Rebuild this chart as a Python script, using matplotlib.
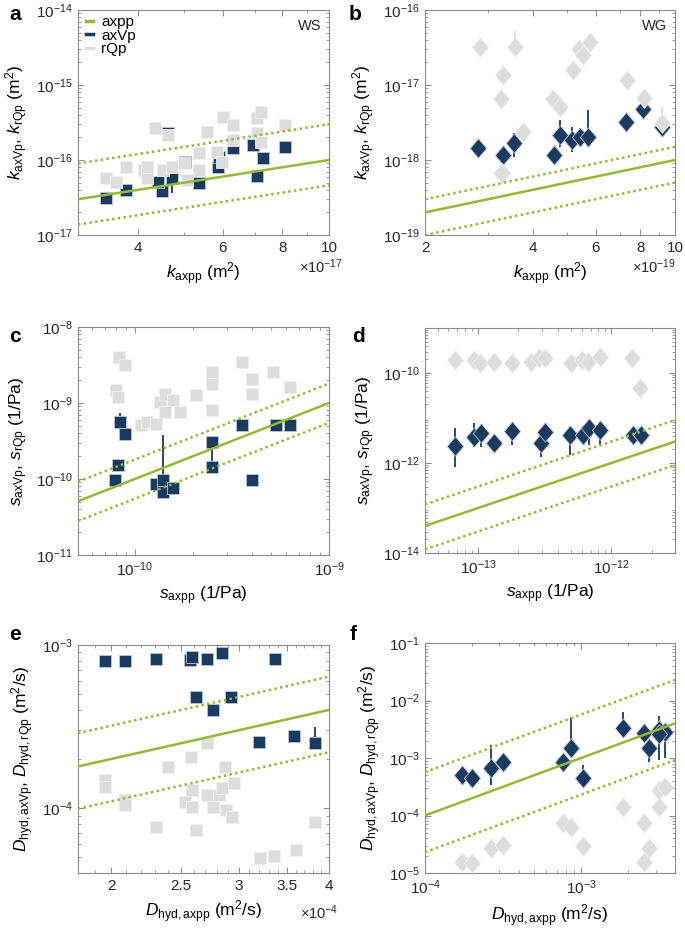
import numpy as np
import matplotlib
matplotlib.use('Agg')
import matplotlib.pyplot as plt
from matplotlib.path import Path
from matplotlib.ticker import FixedLocator, FixedFormatter, NullFormatter

plt.rcParams['font.family'] = ['Liberation Sans', 'DejaVu Sans']
plt.rcParams['mathtext.fontset'] = 'custom'
plt.rcParams['mathtext.rm'] = 'Liberation Sans'
plt.rcParams['mathtext.it'] = 'Liberation Sans:italic'
plt.rcParams['mathtext.bf'] = 'Liberation Sans:bold'

green = '#94b933'
navy = '#1a3a5f'
grey = '#dddddd'

# ---- panel a (WS, k) ----
a_blue_x = [3.43, 3.78, 4.49, 4.40, 4.63, 4.72, 5.02, 5.37, 5.88, 5.90, 6.31, 6.96, 7.09, 7.29, 8.10]
a_blue_y = [0.315, 0.398, 0.386, 0.514, 2.27, 0.57, 0.95, 0.499, 0.815, 1.11, 1.46, 1.58, 0.618, 1.07, 1.5]
a_grey_x = [3.43, 3.60, 3.78, 4.12, 4.18, 4.33, 4.52, 4.63, 4.70, 5.00, 5.06, 5.36, 5.36, 5.57, 5.85,
            5.99, 6.01, 6.31, 6.31, 7.09, 7.23, 7.09, 7.23, 8.10, 4.18]
a_grey_y = [0.57, 0.514, 0.815, 0.736, 0.57, 2.64, 0.736, 2.15, 0.815, 0.903, 0.541, 1.23, 0.736, 2.39, 1.29,
            0.95, 3.78, 2.93, 1.85, 3.59, 4.41, 2.27, 1.76, 2.93, 0.815]
a_err_x = [4.72]
a_err_lo = [0.36]
a_err_hi = [0.644]

# ---- panel b (WG, k) ----
b_blue_x = [2.82, 3.31, 3.55, 3.29, 4.60, 4.77, 5.16, 5.42, 5.72, 7.29, 8.15, 9.17]
b_blue_y = [1.43, 1.165, 1.70, 0.665, 1.165, 2.15, 1.84, 2.04, 2.04, 3.23, 4.85, 2.77]
b_grey_x = [2.85, 3.31, 3.26, 3.57, 3.75, 4.57, 4.77, 5.19, 5.39, 5.54, 5.78, 7.35, 8.19, 9.22, 3.29]
b_grey_y = [31.9, 13.4, 6.58, 31.9, 2.38, 6.58, 5.1, 15.7, 30.4, 24.8, 37.2, 11.5, 6.79, 3.07, 0.665]
b_err_x = [3.55, 4.77, 5.16, 5.42, 5.72, 8.15]
b_err_lo = [1.11, 1.50, 1.29, 1.70, 1.50, 4.61]
b_err_hi = [2.26, 3.40, 2.77, 2.70, 4.61, 5.95]
b_gerr_x = [3.57, 9.22]
b_gerr_lo = [31.9, 3.07]
b_gerr_hi = [53.0, 5.1]

# ---- panel c (WS, s) ----
c_blue_x = [7.95e-11, 8.2e-11, 8.37e-11, 8.88e-11, 1.29e-10, 1.40e-10, 1.40e-10, 1.58e-10, 2.51e-10, 2.51e-10,
            3.57e-10, 4.03e-10, 5.31e-10, 6.29e-10]
c_blue_y = [9.6e-11, 1.51e-10, 5.62e-10, 3.95e-10, 8.7e-11, 9.6e-11, 6.75e-11, 7.69e-11, 3.07e-10, 1.44e-10,
            5.08e-10, 9.6e-11, 5.08e-10, 5.08e-10]
c_grey_x = [8.27e-11, 8.88e-11, 8.04e-11, 8.2e-11, 1.08e-10, 1.15e-10, 1.28e-10, 1.35e-10, 1.43e-10, 1.58e-10,
            1.71e-10, 2.06e-10, 2.51e-10, 2.51e-10, 2.51e-10, 3.57e-10, 4.03e-10, 4.03e-10, 5.16e-10, 6.29e-10,
            1.43e-10]
c_grey_y = [4.03e-9, 3.13e-9, 1.47e-9, 1.2e-9, 5.08e-10, 5.62e-10, 5.35e-10, 1.03e-9, 1.33e-9, 1.08e-9,
            7.6e-10, 1.26e-9, 2.56e-9, 1.8e-9, 8.0e-10, 3.46e-9, 2.05e-9, 1.33e-9, 2.56e-9, 1.62e-9,
            7.6e-10]
c_err_x = [8.37e-11, 1.40e-10, 2.51e-10]
c_err_lo = [3.95e-10, 6.75e-11, 1.44e-10]
c_err_hi = [7.4e-10, 3.75e-10, 3.07e-10]

# ---- panel d (WG, s) ----
d_grey_x = [6.66e-14, 9.29e-14, 1.04e-13, 1.32e-13, 1.81e-13, 2.49e-13, 2.87e-13, 3.16e-13, 4.94e-13, 6.04e-13,
            6.65e-13, 8.18e-13, 1.43e-12, 1.64e-12]
d_grey_y = [1.95e-10, 1.95e-10, 1.64e-10, 1.78e-10, 1.64e-10, 1.78e-10, 2.12e-10, 2.12e-10, 1.64e-10, 1.95e-10,
            1.78e-10, 2.31e-10, 2.12e-10, 4.56e-11]
d_blue_x = [6.66e-14, 9.29e-14, 1.05e-13, 1.32e-13, 1.81e-13, 2.95e-13, 3.16e-13, 4.89e-13, 6.15e-13, 6.77e-13,
            8.18e-13, 1.45e-12, 1.66e-12]
d_blue_y = [2.43e-12, 3.85e-12, 4.56e-12, 2.74e-12, 5.14e-12, 2.74e-12, 4.9e-12, 4.19e-12, 4.19e-12, 5.9e-12,
            5.37e-12, 4.19e-12, 4.19e-12]
d_err_x = [6.66e-14, 9.29e-14, 1.05e-13, 1.81e-13, 2.95e-13, 4.89e-13, 6.77e-13, 8.18e-13]
d_err_lo = [8.3e-13, 2.31e-12, 2.31e-12, 2.5e-12, 1.38e-12, 1.5e-12, 2.5e-12, 2.5e-12]
d_err_hi = [5.9e-12, 7.6e-12, 4.56e-12, 5.14e-12, 2.74e-12, 4.19e-12, 5.9e-12, 5.37e-12]

# ---- panel e (WS, D) ----
e_blue_x = [1.96e-4, 2.09e-4, 2.31e-4, 2.57e-4, 2.59e-4, 2.71e-4, 2.85e-4, 3.37e-4, 2.62e-4, 2.93e-4,
            2.77e-4, 3.20e-4, 3.58e-4, 3.82e-4]
e_blue_y = [7.97e-4, 8.0e-4, 8.17e-4, 8.08e-4, 8.39e-4, 8.17e-4, 8.89e-4, 8.17e-4, 4.77e-4, 4.81e-4,
            3.99e-4, 2.55e-4, 2.77e-4, 2.49e-4]
e_grey_x = [1.96e-4, 1.96e-4, 2.09e-4, 2.09e-4, 2.31e-4, 2.40e-4, 2.53e-4, 2.58e-4, 2.59e-4, 2.59e-4,
            2.62e-4, 2.71e-4, 2.71e-4, 2.77e-4, 2.82e-4, 2.85e-4, 2.87e-4, 2.88e-4, 2.94e-4, 2.96e-4,
            3.21e-4, 3.36e-4, 3.60e-4, 3.82e-4]
e_grey_y = [1.485e-4, 1.35e-4, 1.12e-4, 1.04e-4, 7.68e-5, 1.79e-4, 1.09e-4, 2.07e-4, 1.29e-4, 1.02e-4,
            7.33e-5, 2.49e-4, 1.2e-4, 1.02e-4, 1.2e-4, 1.32e-4, 1.79e-4, 9.7e-5, 8.85e-5, 1.42e-4,
            4.91e-5, 5.07e-5, 5.52e-5, 8.25e-5]
e_err_x = [3.82e-4]
e_err_lo = [2.49e-4]
e_err_hi = [3.15e-4]

# ---- panel f (WG, D) ----
f_blue_x = [1.73e-4, 1.99e-4, 2.64e-4, 3.18e-4, 7.63e-4, 8.63e-4, 1.035e-3, 1.85e-3, 2.53e-3, 2.74e-3,
            3.18e-3, 3.45e-3, 3.18e-3]
f_blue_y = [5.06e-4, 4.43e-4, 6.61e-4, 8.63e-4, 8.63e-4, 1.47e-3, 4.43e-4, 3.28e-3, 2.76e-3, 1.47e-3,
            3.07e-3, 2.87e-3, 2.6e-3]
f_grey_x = [1.73e-4, 1.99e-4, 2.64e-4, 3.18e-4, 7.63e-4, 8.63e-4, 1.035e-3, 1.85e-3, 2.53e-3, 2.53e-3,
            2.74e-3, 3.18e-3, 3.18e-3, 3.45e-3]
f_grey_y = [1.57e-5, 1.47e-5, 2.68e-5, 3.07e-5, 7.3e-5, 6.4e-5, 2.95e-5, 1.42e-4, 7.3e-5, 1.57e-5,
            2.68e-5, 1.42e-4, 2.77e-4, 3.17e-4]
f_err_x = [2.64e-4, 8.63e-4, 1.035e-3, 1.85e-3, 2.74e-3, 3.18e-3, 3.45e-3]
f_err_lo = [3.39e-4, 1.47e-3, 4.43e-4, 3.28e-3, 8.6e-4, 9.2e-4, 9.9e-4]
f_err_hi = [1.68e-3, 5.24e-3, 7.55e-4, 6.4e-3, 1.47e-3, 5.3e-3, 2.87e-3]

# dotted bound factors of the 1:1 line
a_bounds = [3.0, 0.46]
b_bounds = [1.5, 0.5]
c_bounds = [1.8, 0.55]
d_bounds = [3.0, 0.3]
e_bounds = [1.6, 0.55]
f_bounds = [5.7, 0.23]

diamond = Path([(0, 1), (0.84, 0), (0, -1), (-0.84, 0), (0, 1)],
               [Path.MOVETO, Path.LINETO, Path.LINETO, Path.LINETO, Path.CLOSEPOLY])

fig = plt.figure(figsize=(6.85, 9.34), dpi=100)
W, H = 685.0, 934.0
tick_fs = 11
lab = 12.5
txt_c = '#262626'


def make_ax(x0, x1, y0, y1):
    return fig.add_axes([x0 / W, 1 - y1 / H, (x1 - x0) / W, (y1 - y0) / H])


def setup(ax, xlim, ylim):
    ax.set_xscale('log')
    ax.set_yscale('log')
    ax.set_xlim(xlim)
    ax.set_ylim(ylim)
    for s in ax.spines.values():
        s.set_color('#8a8a8a')
        s.set_linewidth(0.8)
    ax.tick_params(which='both', direction='in', top=True, right=True, color='#8a8a8a',
                   labelcolor=txt_c, labelsize=tick_fs)
    ax.tick_params(which='major', length=4, width=0.7, pad=4)
    ax.tick_params(which='minor', length=2, width=0.6)


def one2one(ax, xlim, bounds):
    xx = np.array(xlim)
    ax.plot(xx, xx, color=green, lw=1.8, zorder=6)
    ax.plot(xx, xx * bounds[0], color=green, lw=1.8, ls=(0, (1, 1.3)), zorder=6)
    ax.plot(xx, xx * bounds[1], color=green, lw=1.8, ls=(0, (1, 1.3)), zorder=6)


def points(ax, bx, by, gx, gy, marker, ms, ex, elo, ehi, gex=None, gelo=None, gehi=None):
    ax.vlines(ex, elo, ehi, color=navy, lw=1.3, zorder=2)
    ax.plot(bx, by, ls='none', marker=marker, ms=ms, mfc=navy, mec='#b9c5d6', mew=0.6, zorder=3)
    if gex is not None:
        ax.vlines(gex, gelo, gehi, color=grey, lw=1.3, zorder=4)
    ax.plot(gx, gy, ls='none', marker=marker, ms=ms, mfc=grey, mec='#efefef', mew=0.6, zorder=5)


# a
ax = make_ax(78, 329, 10, 235)
xl = (3e-17, 1e-16)
setup(ax, xl, (1e-17, 1e-14))
one2one(ax, xl, a_bounds)
points(ax, np.array(a_blue_x) * 1e-17, np.array(a_blue_y) * 1e-16,
       np.array(a_grey_x) * 1e-17, np.array(a_grey_y) * 1e-16, 's', 8.8,
       np.array(a_err_x) * 1e-17, np.array(a_err_lo) * 1e-16, np.array(a_err_hi) * 1e-16)
ax.xaxis.set_major_locator(FixedLocator([4e-17, 6e-17, 8e-17, 1e-16]))
ax.xaxis.set_major_formatter(FixedFormatter(['4', '6', '8', '10']))
ax.xaxis.set_minor_formatter(NullFormatter())
ax.set_xlabel(r'$k_{\rm axpp}$ (m$^2$)', fontsize=lab)
ax.set_ylabel(r'$k_{\rm axVp}$, $k_{\rm rQp}$ (m$^2$)', fontsize=lab)
ax.text(0.97, 0.93, 'WS', transform=ax.transAxes, ha='right', va='center', fontsize=10.5, color=txt_c)
h1, = ax.plot([], [], color=green, lw=2.5)
h2, = ax.plot([], [], color=navy, lw=2.5)
h3, = ax.plot([], [], color=grey, lw=2.5)
ax.legend([h1, h2, h3], ['axpp', 'axVp', 'rQp'], loc='upper left', frameon=False, fontsize=11,
          handlelength=0.5, handletextpad=0.5, labelspacing=-0.05, borderaxespad=0.1,
          bbox_to_anchor=(0.0, 1.01))
fig.text(299 / W, 1 - 267 / H, r'$\times10^{-17}$', fontsize=10.5, ha='left', va='center', color=txt_c)

# b
ax = make_ax(425, 675, 10, 235)
xl = (2e-19, 1e-18)
setup(ax, xl, (1e-19, 1e-16))
one2one(ax, xl, b_bounds)
points(ax, np.array(b_blue_x) * 1e-19, np.array(b_blue_y) * 1e-18,
       np.array(b_grey_x) * 1e-19, np.array(b_grey_y) * 1e-18, diamond, 14,
       np.array(b_err_x) * 1e-19, np.array(b_err_lo) * 1e-18, np.array(b_err_hi) * 1e-18,
       np.array(b_gerr_x) * 1e-19, np.array(b_gerr_lo) * 1e-18, np.array(b_gerr_hi) * 1e-18)
ax.xaxis.set_major_locator(FixedLocator([2e-19, 4e-19, 6e-19, 8e-19, 1e-18]))
ax.xaxis.set_major_formatter(FixedFormatter(['2', '4', '6', '8', '10']))
ax.xaxis.set_minor_formatter(NullFormatter())
ax.set_xlabel(r'$k_{\rm axpp}$ (m$^2$)', fontsize=lab)
ax.set_ylabel(r'$k_{\rm axVp}$, $k_{\rm rQp}$ (m$^2$)', fontsize=lab)
ax.text(0.97, 0.93, 'WG', transform=ax.transAxes, ha='right', va='center', fontsize=10.5, color=txt_c)
fig.text(632 / W, 1 - 267 / H, r'$\times10^{-19}$', fontsize=10.5, ha='left', va='center', color=txt_c)

# c
ax = make_ax(78, 329, 327, 555)
xl = (5.1e-11, 1e-9)
setup(ax, xl, (1e-11, 1e-8))
one2one(ax, xl, c_bounds)
points(ax, c_blue_x, c_blue_y, c_grey_x, c_grey_y, 's', 8.8, c_err_x, c_err_lo, c_err_hi)
ax.set_xlabel(r'$s_{\rm axpp}$ (1/Pa)', fontsize=lab)
ax.set_ylabel(r'$s_{\rm axVp}$, $s_{\rm rQp}$ (1/Pa)', fontsize=lab)

# d
ax = make_ax(425, 675, 328, 553)
xl = (4e-14, 3e-12)
setup(ax, xl, (1e-14, 1e-9))
one2one(ax, xl, d_bounds)
points(ax, d_blue_x, d_blue_y, d_grey_x, d_grey_y, diamond, 14, d_err_x, d_err_lo, d_err_hi)
ax.yaxis.set_major_locator(FixedLocator([1e-14, 1e-12, 1e-10]))
ax.set_xlabel(r'$s_{\rm axpp}$ (1/Pa)', fontsize=lab)
ax.set_ylabel(r'$s_{\rm axVp}$, $s_{\rm rQp}$ (1/Pa)', fontsize=lab)

# e
ax = make_ax(78, 329, 645, 873)
xl = (1.8e-4, 4e-4)
setup(ax, xl, (4e-5, 1e-3))
one2one(ax, xl, e_bounds)
points(ax, e_blue_x, e_blue_y, e_grey_x, e_grey_y, 's', 8.8, e_err_x, e_err_lo, e_err_hi)
ax.xaxis.set_major_locator(FixedLocator([2e-4, 2.5e-4, 3e-4, 3.5e-4, 4e-4]))
ax.xaxis.set_major_formatter(FixedFormatter(['2', '2.5', '3', '3.5', '4']))
ax.xaxis.set_minor_locator(FixedLocator(np.arange(18, 41) * 1e-5))
ax.xaxis.set_minor_formatter(NullFormatter())
ax.yaxis.set_minor_formatter(NullFormatter())
ax.set_xlabel(r'$D_{\rm hyd,axpp}$ (m$^2$/s)', fontsize=lab)
ax.set_ylabel(r'$D_{\rm hyd,axVp}$, $D_{\rm hyd,rQp}$ (m$^2$/s)', fontsize=lab)
fig.text(300 / W, 1 - 913 / H, r'$\times10^{-4}$', fontsize=10.5, ha='left', va='center', color=txt_c)

# f
ax = make_ax(425, 675, 643, 873)
xl = (1e-4, 4e-3)
setup(ax, xl, (1e-5, 1e-1))
one2one(ax, xl, f_bounds)
points(ax, f_blue_x, f_blue_y, f_grey_x, f_grey_y, diamond, 14, f_err_x, f_err_lo, f_err_hi)
ax.set_xlabel(r'$D_{\rm hyd,axpp}$ (m$^2$/s)', fontsize=lab)
ax.set_ylabel(r'$D_{\rm hyd,axVp}$, $D_{\rm hyd,rQp}$ (m$^2$/s)', fontsize=lab)

for letter, px, py in [('a', 15, 15), ('b', 355, 15), ('c', 15, 337), ('d', 358, 337), ('e', 15, 635), ('f', 353, 635)]:
    fig.text(px / W, 1 - py / H, letter, fontsize=15, fontweight='bold', ha='center', va='center')

fig.savefig('out.png', dpi=100)
